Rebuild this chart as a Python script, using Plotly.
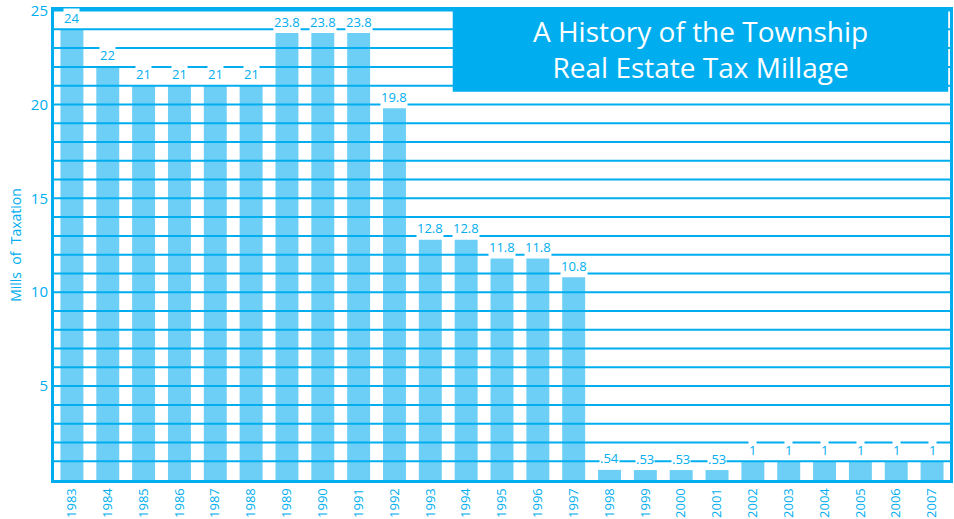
import plotly.graph_objects as go

years = [str(y) for y in range(1983, 2008)]
millage = [24, 22, 21, 21, 21, 21, 23.8, 23.8, 23.8, 19.8, 12.8, 12.8, 11.8, 11.8, 10.8,
           0.54, 0.53, 0.53, 0.53, 1, 1, 1, 1, 1, 1]
labels = ["24", "22", "21", "21", "21", "21", "23.8", "23.8", "23.8", "19.8", "12.8", "12.8",
          "11.8", "11.8", "10.8", ".54", ".53", ".53", ".53", "1", "1", "1", "1", "1", "1"]
y_ticks = [5, 10, 15, 20, 25]
grid_levels = list(range(1, 26))

BLUE = "#00aeef"
BAR = "#6dcff6"
FONT = "Open Sans"

fig = go.Figure()
fig.add_trace(go.Bar(x=years, y=millage, marker=dict(color=BAR, line=dict(width=0)),
                     hoverinfo="x+y"))

shapes = []
for g in grid_levels:
    shapes.append(dict(type="line", xref="paper", yref="y", x0=0, x1=1, y0=g, y1=g,
                       line=dict(color=BLUE, width=2), layer="above"))
# title box
shapes.append(dict(type="rect", xref="paper", yref="paper", x0=0.445, x1=0.998, y0=0.826, y1=1.0,
                   fillcolor=BLUE, line=dict(width=0), layer="above"))
fig.update_layout(shapes=shapes)

for i, (v, t) in enumerate(zip(millage, labels)):
    fig.add_annotation(x=i, y=v, text=t, showarrow=False, yanchor="bottom", yshift=1.5,
                       bgcolor="white", borderpad=0,
                       font=dict(family=FONT, size=13, color=BLUE))

fig.add_annotation(xref="paper", yref="paper", x=0.7215, y=0.918,
                   text="A History of the Township<br>Real Estate Tax Millage",
                   showarrow=False, xanchor="center", yanchor="middle",
                   font=dict(family=FONT, size=28, color="white"))

fig.update_layout(
    width=954, height=519,
    margin=dict(l=54, r=4, t=10, b=39, autoexpand=False),
    paper_bgcolor="white", plot_bgcolor="white",
    showlegend=False, bargap=0.36,
    font=dict(family=FONT, color=BLUE),
    xaxis=dict(type="category", range=[-0.5, 24.5], showgrid=False, showline=True,
               linecolor=BLUE, linewidth=3, mirror=True, tickangle=-90, ticks="",
               automargin=False, ticklabeloverflow="allow",
               tickfont=dict(family=FONT, size=13, color=BLUE)),
    yaxis=dict(range=[0, 25.03], tickvals=y_ticks, showgrid=False, showline=True,
               linecolor=BLUE, linewidth=3, mirror=True, ticks="", zeroline=False,
               automargin=False, ticklabeloverflow="allow", ticklabelstandoff=0,
               tickfont=dict(family=FONT, size=15, color=BLUE),
               title=dict(text="Mills  of  Taxation", font=dict(family=FONT, size=14, color=BLUE),
                          standoff=6)),
)

fig.write_html("out.html", config={"displayModeBar": False},
               post_script="document.body.style.margin='0';document.body.style.padding='0';")
